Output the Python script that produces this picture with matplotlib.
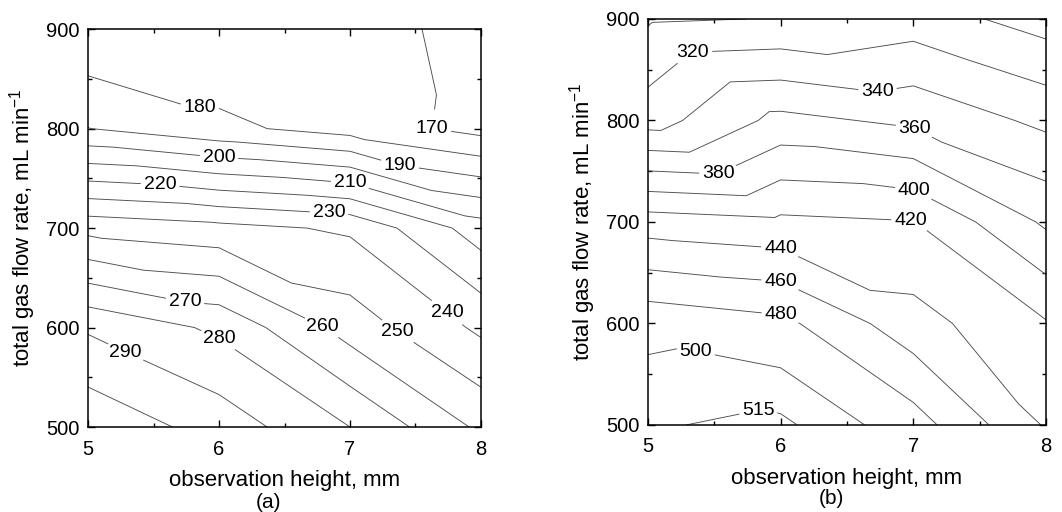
import matplotlib
matplotlib.use("Agg")
import matplotlib.pyplot as plt
import matplotlib.tri as mtri
from matplotlib.ticker import MultipleLocator
import numpy as np

plt.rcParams['font.family'] = ['Liberation Sans', 'DejaVu Sans']
plt.rcParams['mathtext.fontset'] = 'custom'
plt.rcParams['mathtext.rm'] = 'Liberation Sans'
plt.rcParams['mathtext.it'] = 'Liberation Sans:italic'
plt.rcParams['axes.unicode_minus'] = False

# grid of the measurements
heights = [5, 6, 7, 8]                 # observation height, mm
flows = [500, 600, 700, 800, 900]      # total gas flow rate, mL/min

# rows follow flows (500 -> 900), columns follow heights (5 -> 8)
values_a = [
    [307.6, 295.8, 280.0, 258.0],
    [288.7, 278.0, 255.6, 238.0],
    [246.8, 243.1, 238.5, 214.8],
    [190.2, 182.5, 175.7, 166.6],
    [171.0, 170.2, 176.6, 164.6],
]
values_b = [
    [513.5, 518.7, 489.2, 438.0],
    [494.0, 485.5, 447.7, 421.6],
    [429.8, 424.1, 420.7, 376.6],
    [330.8, 365.9, 355.5, 335.2],
    [297.7, 300.8, 310.0, 291.3],
]

levels_a = [170, 180, 190, 200, 210, 220, 230, 240, 250, 260, 270, 280, 290, 300]
labeled_a = [170, 180, 190, 200, 210, 220, 230, 240, 250, 260, 270, 280, 290]
levels_b = [300, 320, 340, 360, 380, 400, 420, 440, 460, 480, 500, 515]
labeled_b = [320, 340, 360, 380, 400, 420, 440, 460, 480, 500, 515]

# where the contour labels sit (data coords)
label_pos_a = [(5.85, 815), (7.61, 800), (6.0, 771), (7.38, 763), (5.55, 743),
               (7.0, 745), (6.84, 715), (7.77, 620), (5.74, 626), (6.80, 604),
               (7.38, 599), (6.0, 589), (5.30, 579)]
label_pos_b = [(5.34, 866), (6.73, 829), (7.01, 792), (5.53, 748), (7.01, 732),
               (6.98, 702), (6.0, 674), (6.0, 641), (6.0, 608), (5.36, 572),
               (5.83, 516)]


def grid_triangulation(xs, ys):
    # split every cell along the top-left -> bottom-right diagonal
    X, Y = np.meshgrid(xs, ys)
    nx, ny = len(xs), len(ys)
    tris = []
    for r in range(ny - 1):
        for c in range(nx - 1):
            bl = r * nx + c
            br = bl + 1
            tl = bl + nx
            tr = tl + 1
            tris.append([bl, br, tl])
            tris.append([br, tr, tl])
    return mtri.Triangulation(X.ravel(), Y.ravel(), tris)


def contour_panel(ax, values, levels, labeled, positions, tag, tag_y):
    tri = grid_triangulation(heights, flows)
    z = np.ravel(values)
    line_kw = dict(colors='0.3', linewidths=0.65)
    cs = ax.tricontour(tri, z, levels=labeled, **line_kw)
    plain = [lv for lv in levels if lv not in labeled]
    if plain:
        ax.tricontour(tri, z, levels=plain, **line_kw)
    txts = ax.clabel(cs, manual=positions, fmt='%d', colors='k',
                     fontsize=14, inline=True, inline_spacing=3)
    for t in txts:
        t.set_rotation(0)

    ax.set_xlim(5, 8)
    ax.set_ylim(500, 900)
    ax.set_xticks(heights)
    ax.set_yticks(flows)
    ax.xaxis.set_minor_locator(MultipleLocator(0.5))
    ax.yaxis.set_minor_locator(MultipleLocator(50))
    ax.tick_params(which='both', direction='in', top=True, right=True,
                   labelsize=14.5, width=1)
    ax.tick_params(which='major', length=5, pad=6)
    ax.tick_params(axis='x', which='major', pad=9)
    ax.tick_params(which='minor', length=3)
    for s in ax.spines.values():
        s.set_linewidth(1.1)

    ax.set_xlabel('observation height, mm', fontsize=16, labelpad=8)
    ax.set_ylabel('total gas flow rate, mL min$^{-1}$', fontsize=16, labelpad=6)
    ax.text(0.46, tag_y, tag, transform=ax.transAxes, ha='center',
            va='center', fontsize=15)


fig = plt.figure(figsize=(10.62, 5.12), dpi=100)
ax_a = fig.add_axes([0.0829, 0.166, 0.370, 0.777])
ax_b = fig.add_axes([0.610, 0.170, 0.375, 0.793])

contour_panel(ax_a, values_a, levels_a, labeled_a, label_pos_a, '(a)', -0.19)
contour_panel(ax_b, values_b, levels_b, labeled_b, label_pos_b, '(b)', -0.18)

fig.savefig('out.png', dpi=100)
